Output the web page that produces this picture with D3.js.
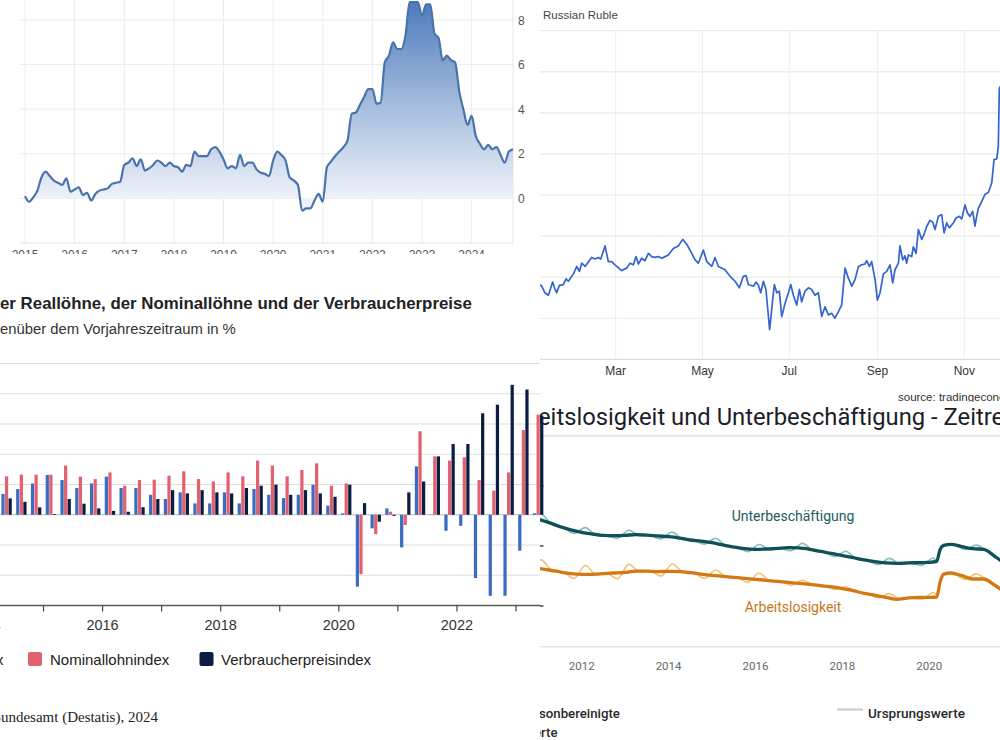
<!DOCTYPE html>
<html><head><meta charset="utf-8">
<script src="https://cdn.jsdelivr.net/npm/d3@7"></script>
<style>body{margin:0;background:#fff}svg{display:block}</style>
</head><body>
<svg id="c" width="1000" height="740"></svg>
<script>
// ---------- DATA ----------
// Panel 1: monthly inflation rate (%), Jan 2015 .. Nov 2024
const inflationValues = [
 0.1,-0.15,0.05,0.35,0.95,1.2,1.0,0.8,0.7,0.6,0.9,0.3,
 0.4,0.5,0.15,0.25,-0.1,0.2,0.35,0.4,0.45,0.65,0.7,0.75,
 1.5,1.6,1.8,1.45,1.75,1.25,1.35,1.5,1.7,1.6,1.45,1.6,
 1.45,1.4,1.2,1.5,1.45,2.1,1.9,1.9,1.9,2.2,2.3,2.1,
 1.75,1.35,1.45,1.35,1.95,1.45,1.6,1.6,1.3,1.15,1.1,1.0,
 1.7,2.1,1.95,1.7,0.95,0.8,0.6,-0.55,-0.45,-0.45,-0.1,0.2,
 -0.15,1.4,1.65,1.9,2.1,2.3,2.6,3.8,3.85,4.2,4.55,4.9,
 4.9,4.25,4.3,6.1,6.4,7.0,6.7,6.7,7.3,8.8,8.8,8.8,
 8.2,8.7,8.7,7.4,7.2,6.2,6.4,6.2,6.1,4.8,4.0,3.3,
 3.7,2.8,2.45,2.2,2.4,2.2,2.3,1.95,1.6,2.1,2.2];
const inflationYears = [2015,2016,2017,2018,2019,2020,2021,2022,2023,2024];
const inflationTicks = [0,2,4,6,8];

// Panel 2: USD/RUB 2024 (day of year, rate)
const rubleDays = [6.8,8.0,10.3,12.7,15.7,17.4,18.5,20.4,23.2,25.1,26.7,30.3,32.6,34.5,36.1,38.5,43.1,45.5,47.8,49.5,52.5,54.8,57.2,59.5,64.2,67.7,70.1,72.4,74.3,75.9,78.3,80.6,83.0,85.3,87.6,90.0,92.3,94.7,97.0,100.5,104.0,107.1,109.9,112.2,115.8,118.1,121.6,124.0,127.5,129.8,132.2,136.8,140.4,143.9,146.9,149.7,151.6,153.2,156.8,158.6,160.3,161.9,163.8,165.6,168.2,170.3,171.5,173.2,175.0,176.7,179.0,181.4,183.0,184.9,187.2,189.1,190.7,193.1,195.4,197.7,200.1,202.4,204.8,207.1,209.5,211.8,214.1,216.5,218.8,221.2,223.5,225.9,228.2,230.6,232.9,235.2,236.4,238.3,239.9,242.3,243.9,245.8,248.1,250.5,252.8,254.7,256.3,258.7,259.8,261.7,263.3,264.5,265.7,268.0,269.2,271.1,272.7,275.1,276.7,278.6,280.9,282.8,284.4,286.8,289.1,290.8,292.6,294.5,297.3,299.2,301.5,303.2,305.5,307.2,309.0,310.9,312.5,313.7,314.9,317.2,319.6,321.9,324.3,325.9,327.8,328.9,329.6,330.1];
const rubleRates = [89.1,88.9,88.1,87.8,89.4,88.5,88.1,89.0,89.1,89.8,89.5,90.4,91.3,90.7,91.7,91.3,92.4,92.2,92.4,92.2,93.8,91.9,91.9,91.5,90.8,91.1,91.7,91.5,92.5,91.6,92.3,92.0,92.9,92.5,92.4,92.5,92.3,92.5,92.7,93.5,93.8,94.6,94.0,93.3,92.1,91.7,93.3,91.9,91.3,92.4,91.3,90.9,90.1,89.5,88.7,90.1,90.2,89.1,88.9,89.4,89.0,88.1,89.5,88.5,83.6,87.2,89.1,88.1,88.3,85.2,86.8,88.1,89.1,87.8,86.6,88.5,87.0,88.3,88.7,88.5,87.8,88.1,85.2,86.4,85.4,85.6,85.0,85.8,86.6,91.1,89.9,88.9,89.7,91.3,91.5,91.6,92.0,91.3,91.9,89.7,87.2,88.1,90.4,90.7,91.5,89.3,90.9,91.7,93.8,92.1,92.6,91.7,92.7,92.5,93.7,92.9,95.8,94.6,95.2,96.2,96.9,96.7,95.8,97.4,97.6,95.4,96.6,96.0,96.6,97.2,97.4,97.1,98.8,97.8,97.4,98.0,96.2,97.4,98.4,99.2,100.1,100.3,101.5,104.3,104.4,105.9,112.9,113.2];
const rubleTickMonths = [2,4,6,8,10]; // Mar, May, Jul, Sep, Nov
const rubleGridValues = [80,85,90,95,100,105,110,115,120];

// Panel 3: quarterly change vs previous year (%)
const wageQuarters = ["2014-2","2014-3","2014-4","2015-1","2015-2","2015-3","2015-4","2016-1","2016-2","2016-3","2016-4","2017-1","2017-2","2017-3","2017-4","2018-1","2018-2","2018-3","2018-4","2019-1","2019-2","2019-3","2019-4","2020-1","2020-2","2020-3","2020-4","2021-1","2021-2","2021-3","2021-4","2022-1","2022-2","2022-3","2022-4","2023-1","2023-2"];
const realWage = [1.37,1.7,2.07,2.63,2.3,1.77,2.07,2.52,1.77,1.77,1.32,1.04,1.48,0.75,0.75,1.48,0.75,1.7,1.32,1.1,1.32,1.99,0.6,0.09,-4.75,-0.9,0.42,-2.16,3.2,0.02,-1.06,-0.73,-4.19,-5.36,-5.36,-2.38,0.1];
const nominalWage = [2.54,2.65,2.65,2.65,3.25,2.52,2.36,2.8,1.92,2.3,2.32,2.58,2.87,2.36,2.2,2.8,2.54,3.58,3.25,2.54,2.96,3.4,1.92,2.07,-3.93,-1.28,0.2,-0.68,5.52,3.86,3.58,3.8,2.3,1.59,2.8,5.6,6.62];
const consumerPrices = [1.08,0.86,0.49,0.05,1.04,0.73,0.42,0.26,0.2,0.5,1.04,1.63,1.41,1.63,1.48,1.41,1.77,1.92,1.99,1.32,1.63,1.41,1.19,1.99,0.77,-0.46,-0.07,1.48,2.2,3.86,4.68,4.68,6.71,7.28,8.59,8.28,6.56];
const wageSeries = ["Reallohnindex","Nominallohnindex","Verbraucherpreisindex"];
const wageYearTicks = [2014,2015,2016,2017,2018,2019,2020,2021,2022,2023];
const wageYearLabels = [2014,2016,2018,2020,2022];
const wageGrid = [-4,-2,2,4,6,8,10];

// Panel 4: unemployment / underemployment
const trendYears = [2011,2011.25,2011.5,2011.75,2012,2012.25,2012.5,2012.75,2013,2013.25,2013.5,2013.75,2014,2014.25,2014.5,2014.75,2015,2015.25,2015.5,2015.75,2016,2016.25,2016.5,2016.75,2017,2017.25,2017.5,2017.75,2018,2018.25,2018.5,2018.75,2019,2019.25,2019.5,2019.75,2020,2020.17,2020.25,2020.33,2020.5,2020.75,2021,2021.25,2021.5,2021.65];
const underTrend = [9.78,9.56,9.29,9.07,8.91,8.80,8.71,8.69,8.71,8.76,8.73,8.67,8.62,8.53,8.40,8.33,8.22,8.07,7.93,7.82,7.78,7.80,7.84,7.89,7.87,7.78,7.64,7.51,7.36,7.22,7.07,6.96,6.87,6.84,6.87,6.89,6.91,6.98,7.78,8.04,8.11,7.96,7.82,7.78,7.33,7.02];
const unempTrend = [6.51,6.40,6.27,6.16,6.11,6.11,6.16,6.20,6.24,6.33,6.33,6.29,6.31,6.29,6.22,6.13,6.04,5.98,5.91,5.84,5.78,5.71,5.64,5.58,5.51,5.44,5.36,5.27,5.16,5.02,4.84,4.71,4.58,4.44,4.53,4.58,4.58,4.60,5.62,6.13,6.20,6.02,5.80,5.80,5.40,5.11];
const rawYears = [2011,2011.08,2011.33,2011.58,2011.83,2012.08,2012.33,2012.58,2012.83,2013.08,2013.33,2013.58,2013.83,2014.08,2014.33,2014.58,2014.83,2015.08,2015.33,2015.58,2015.83,2016.08,2016.33,2016.58,2016.83,2017.08,2017.33,2017.58,2017.83,2018.08,2018.33,2018.58,2018.83,2019.08,2019.33,2019.58,2019.83,2020.08,2020.17,2020.25,2020.33,2020.58,2020.83,2021.08,2021.33,2021.58,2021.65];
const underRaw = [10.05,10.12,9.40,9.22,8.84,9.22,8.70,8.68,8.52,9.05,8.68,8.70,8.48,8.93,8.44,8.36,8.12,8.51,7.98,7.89,7.63,8.10,7.74,7.83,7.70,8.18,7.69,7.59,7.29,7.65,7.12,7.02,6.76,7.18,6.78,6.85,6.72,7.20,7.05,7.80,8.02,8.06,7.78,8.06,7.66,7.18,7.00];
const unempRaw = [7.0,7.08,6.32,6.26,5.84,6.70,6.08,6.18,5.82,6.78,6.27,6.34,6.00,6.80,6.25,6.22,5.84,6.40,5.93,5.91,5.58,6.20,5.66,5.64,5.38,5.72,5.40,5.36,5.10,5.26,4.95,4.82,4.55,4.82,4.44,4.57,4.44,4.90,4.78,5.66,6.14,6.12,5.78,6.15,5.72,5.22,5.10];
const unempYearLabels = [2012,2014,2016,2018,2020,2022];
const unempYTicks = [4,8,12];

// ---------- HELPERS ----------
const svg = d3.select("#c");
const defs = svg.append("defs");
function panel(id,x,y,w,h){
  defs.append("clipPath").attr("id",id).append("rect").attr("x",x).attr("y",y).attr("width",w).attr("height",h);
  return svg.append("g").attr("clip-path",`url(#${id})`);
}
function fitText(g,o){
  const t=g.append("text").attr("y",o.y).attr("fill",o.color)
    .style("font-family",o.font).style("font-weight",o.weight||400).style("font-size","100px");
  const vis=o.full.slice(o.start,o.end===undefined?o.full.length:o.end);
  t.text(vis); const w=t.node().getComputedTextLength();
  const size=o.size||100*o.width/w;
  t.style("font-size",size+"px");
  let pre=0; if(o.start>0){t.text(o.full.slice(0,o.start)); pre=t.node().getComputedTextLength();}
  t.text(o.full).attr("x",o.x-pre);
  return size;
}
const SANS="'Liberation Sans', Arial, Helvetica, sans-serif";
const ROBOTO="Roboto, 'Noto Sans', sans-serif";

// ---------- PANEL 1 ----------
{
  const g=panel("cp1",0,0,540,254);
  const x=d3.scaleLinear().domain([0,118]).range([25,513]);
  const y=d3.scaleLinear().domain([-2,8]).range([243,20]);
  const gr=defs.append("linearGradient").attr("id","g1grad").attr("gradientUnits","userSpaceOnUse")
    .attr("x1",0).attr("x2",0).attr("y1",y(8.8)).attr("y2",y(0));
  gr.append("stop").attr("offset",0).attr("stop-color","#4e7bbd");
  gr.append("stop").attr("offset",0.55).attr("stop-color","#a9bfdf");
  gr.append("stop").attr("offset",1).attr("stop-color","#eef2f9");
  g.selectAll("line.h").data(inflationTicks).join("line").attr("class","h")
    .attr("x1",20).attr("x2",513).attr("y1",d=>y(d)).attr("y2",d=>y(d)).attr("stroke","#ececec");
  g.selectAll("line.v").data(inflationYears).join("line").attr("class","v")
    .attr("x1",d=>x((d-2015)*12)).attr("x2",d=>x((d-2015)*12)).attr("y1",0).attr("y2",y(-2)).attr("stroke","#ececec");
  g.append("line").attr("x1",x(118)).attr("x2",x(118)).attr("y1",0).attr("y2",y(-2)).attr("stroke","#e6e6e6");
  g.append("line").attr("x1",20).attr("x2",513).attr("y1",y(-2)).attr("y2",y(-2)).attr("stroke","#e3e3e3");
  const area=d3.area().x((d,i)=>x(i)).y0(y(0)).y1(d=>y(d)).curve(d3.curveMonotoneX);
  g.append("path").datum(inflationValues).attr("d",area).attr("fill","url(#g1grad)");
  const line=d3.line().x((d,i)=>x(i)).y(d=>y(d)).curve(d3.curveMonotoneX);
  g.append("path").datum(inflationValues).attr("d",line).attr("fill","none").attr("stroke","#4a73ab").attr("stroke-width",2.2);
  g.selectAll("text.yl").data(inflationTicks).join("text").attr("class","yl")
    .attr("x",518).attr("y",d=>y(d)+4.5).text(d=>d).attr("fill","#555").style("font-family",SANS).style("font-size","12px");
  g.selectAll("text.xl").data(inflationYears).join("text").attr("class","xl")
    .attr("x",d=>x((d-2015)*12)).attr("y",258.5).attr("text-anchor","middle").text(d=>d)
    .attr("fill","#555").style("font-family",SANS).style("font-size","12px");
}

// ---------- PANEL 2 ----------
{
  const g=panel("cp2",540,0,460,402);
  const base=new Date(2024,0,1).getTime();
  const x=d3.scaleTime().domain([new Date(2024,2,1),new Date(2024,10,1)]).range([615.7,964.3]);
  const y=d3.scaleLinear().domain([80,120]).range([359.3,30.7]);
  g.selectAll("line.h").data(rubleGridValues).join("line").attr("class","h")
    .attr("x1",540).attr("x2",1000).attr("y1",d=>y(d)).attr("y2",d=>y(d))
    .attr("stroke",d=>d===80?"#dcdcdc":"#e9e9e9").attr("stroke-width",1.2);
  g.selectAll("line.v").data(rubleTickMonths).join("line").attr("class","v")
    .attr("x1",d=>x(new Date(2024,d,1))).attr("x2",d=>x(new Date(2024,d,1)))
    .attr("y1",y(120)).attr("y2",y(80)).attr("stroke","#eeeeee");
  const pts=rubleDays.map((d,i)=>[new Date(base+d*864e5),rubleRates[i]]);
  g.append("path").datum(pts).attr("d",d3.line().x(d=>x(d[0])).y(d=>y(d[1])))
    .attr("fill","none").attr("stroke","#3563cf").attr("stroke-width",1.7).attr("stroke-linejoin","round");
  g.append("text").attr("x",543).attr("y",19).text("Russian Ruble").attr("fill","#444")
    .style("font-family",SANS).style("font-size","11.5px");
  const fmt=d3.timeFormat("%b");
  g.selectAll("text.xl").data(rubleTickMonths).join("text").attr("class","xl")
    .attr("x",d=>x(new Date(2024,d,1))).attr("y",374.5).attr("text-anchor","middle")
    .text(d=>fmt(new Date(2024,d,1))).attr("fill","#333").style("font-family",SANS).style("font-size","12px");
  g.append("text").attr("x",898).attr("y",400.5).text("source: tradingeconomics.com").attr("fill","#333")
    .style("font-family",SANS).style("font-size","11.5px");
}

// ---------- PANEL 4 ----------
{
  const g=panel("cp4",540,402,460,338);
  const x=d3.scaleLinear().domain([2012,2020]).range([581.7,929.3]);
  const y=d3.scaleLinear().domain([4,8]).range([606,546]);
  const full="Arbeitslosigkeit und Unterbeschäftigung - Zeitreihe";
  fitText(g,{full,start:3,end:full.indexOf("Zeitr")+5,x:538,width:454,y:425,font:ROBOTO,color:"#1d1d29"});
  g.append("line").attr("x1",540).attr("x2",1000).attr("y1",435.7).attr("y2",435.7).attr("stroke","#e2e2e2").attr("stroke-width",2);
  g.append("line").attr("x1",540).attr("x2",1000).attr("y1",646.7).attr("y2",646.7).attr("stroke","#e4e4e4").attr("stroke-width",1.5);
  g.selectAll("line.yt").data(unempYTicks).join("line").attr("class","yt")
    .attr("x1",540).attr("x2",543.5).attr("y1",d=>y(d)).attr("y2",d=>y(d)).attr("stroke","#444").attr("stroke-width",1.5);
  const rawLine=d3.line().x(d=>x(d[0])).y(d=>y(d[1])).curve(d3.curveCatmullRom.alpha(0.5));
  const trLine=d3.line().x(d=>x(d[0])).y(d=>y(d[1])).curve(d3.curveMonotoneX);
  g.append("path").datum(rawYears.map((t,i)=>[t,underRaw[i]])).attr("d",rawLine).attr("fill","none").attr("stroke","#86c0c2").attr("stroke-width",1.7);
  g.append("path").datum(rawYears.map((t,i)=>[t,unempRaw[i]])).attr("d",rawLine).attr("fill","none").attr("stroke","#f3c47c").attr("stroke-width",1.7);
  g.append("path").datum(trendYears.map((t,i)=>[t,underTrend[i]])).attr("d",trLine).attr("fill","none").attr("stroke","#0f5157").attr("stroke-width",3.3).attr("stroke-linejoin","round");
  g.append("path").datum(trendYears.map((t,i)=>[t,unempTrend[i]])).attr("d",trLine).attr("fill","none").attr("stroke","#d47814").attr("stroke-width",3.3).attr("stroke-linejoin","round");
  g.append("text").attr("x",793).attr("y",520.5).attr("text-anchor","middle").text("Unterbeschäftigung")
    .attr("fill","#1d5c61").style("font-family",ROBOTO).style("font-size","14px");
  g.append("text").attr("x",793).attr("y",611.5).attr("text-anchor","middle").text("Arbeitslosigkeit")
    .attr("fill","#c7781c").style("font-family",ROBOTO).style("font-size","14px");
  g.selectAll("text.xl").data(unempYearLabels).join("text").attr("class","xl")
    .attr("x",d=>x(d)).attr("y",669.5).attr("text-anchor","middle").text(d=>d)
    .attr("fill","#666").style("font-family",ROBOTO).style("font-size","11.5px");
  const sz=fitText(g,{full:"Saisonbereinigte",start:3,x:539,width:81,y:718,font:ROBOTO,weight:500,color:"#2a2a2a"});
  const t2=g.append("text").attr("y",737).attr("fill","#2a2a2a").style("font-family",ROBOTO).style("font-weight",500).style("font-size",sz+"px").text("We");
  const wWe=t2.node().getComputedTextLength(); t2.text("Werte").attr("x",541-wWe);
  g.append("line").attr("x1",837).attr("x2",863).attr("y1",709.5).attr("y2",709.5).attr("stroke","#c9c9c9").attr("stroke-width",2);
  fitText(g,{full:"Ursprungswerte",start:0,x:868,width:97,y:718,font:ROBOTO,weight:500,color:"#2a2a2a"});
}

// ---------- PANEL 3 (drawn on top) ----------
{
  const g=panel("cp3",0,256,545,484);
  const x=d3.scaleLinear().domain([2015,2023]).range([43.5,516]);
  const y=d3.scaleLinear().domain([-6,10]).range([605.5,363.5]);
  const colors={"Reallohnindex":"#3a6cc2","Nominallohnindex":"#e2606f","Verbraucherpreisindex":"#0b1d42"};
  const inner=d3.scaleBand().domain(wageSeries).range([-5.2,5.2]).paddingInner(0.1);
  g.selectAll("line.h").data(wageGrid).join("line").attr("class","h")
    .attr("x1",0).attr("x2",540).attr("y1",d=>y(d)).attr("y2",d=>y(d)).attr("stroke","#dedede").attr("stroke-width",1.2);
  g.append("line").attr("x1",0).attr("x2",540).attr("y1",y(0)).attr("y2",y(0)).attr("stroke","#b8b8b8").attr("stroke-width",1.2);
  const rows=wageQuarters.map((q,i)=>{const [yr,qt]=q.split("-").map(Number);return {t:yr+(qt-1)/4+0.125,v:[realWage[i],nominalWage[i],consumerPrices[i]]};});
  const grp=g.selectAll("g.q").data(rows).join("g").attr("class","q").attr("transform",d=>`translate(${x(d.t)},0)`);
  grp.selectAll("rect").data(d=>d.v.map((v,k)=>({s:wageSeries[k],v}))).join("rect")
    .attr("x",d=>inner(d.s)).attr("width",inner.bandwidth())
    .attr("y",d=>y(Math.max(0,d.v))).attr("height",d=>Math.abs(y(d.v)-y(0)))
    .attr("fill",d=>colors[d.s]);
  g.append("line").attr("x1",0).attr("x2",540).attr("y1",y(-6)).attr("y2",y(-6)).attr("stroke","#5a5a5a").attr("stroke-width",1.6);
  g.selectAll("line.t").data(wageYearTicks).join("line").attr("class","t")
    .attr("x1",d=>x(d)).attr("x2",d=>x(d)).attr("y1",y(-6)).attr("y2",y(-6)+6).attr("stroke","#444").attr("stroke-width",1.2);
  g.selectAll("text.xl").data(wageYearLabels).join("text").attr("class","xl")
    .attr("x",d=>x(d)).attr("y",630).attr("text-anchor","middle").text(d=>d)
    .attr("fill","#333").style("font-family",SANS).style("font-size","14.5px");
  fitText(g,{full:"Entwicklung der Reallöhne, der Nominallöhne und der Verbraucherpreise",start:13,x:0,width:472,y:309,font:SANS,weight:700,color:"#222"});
  fitText(g,{full:"Veränderung gegenüber dem Vorjahreszeitraum in %",start:15,x:0,width:236,y:333.5,font:SANS,color:"#333"});
  g.append("text").attr("x",3.5).attr("y",664.5).attr("text-anchor","end").text(wageSeries[0])
    .attr("fill","#222").style("font-family",SANS).style("font-size","15px");
  const leg=[{s:wageSeries[1],sx:28,tx:50},{s:wageSeries[2],sx:199.5,tx:221}];
  g.selectAll("rect.lg").data(leg).join("rect").attr("class","lg").attr("x",d=>d.sx).attr("y",652).attr("width",14).attr("height",14).attr("rx",2).attr("fill",d=>colors[d.s]);
  g.selectAll("text.lg").data(leg).join("text").attr("class","lg").attr("x",d=>d.tx).attr("y",664.5).text(d=>d.s)
    .attr("fill","#222").style("font-family",SANS).style("font-size","15px");
  fitText(g,{full:"Quelle: Statistisches Bundesamt (Destatis), 2024",start:23,x:1,width:157,y:722,font:"'Liberation Serif', 'Times New Roman', serif",color:"#222"});
}
</script>
</body></html>
